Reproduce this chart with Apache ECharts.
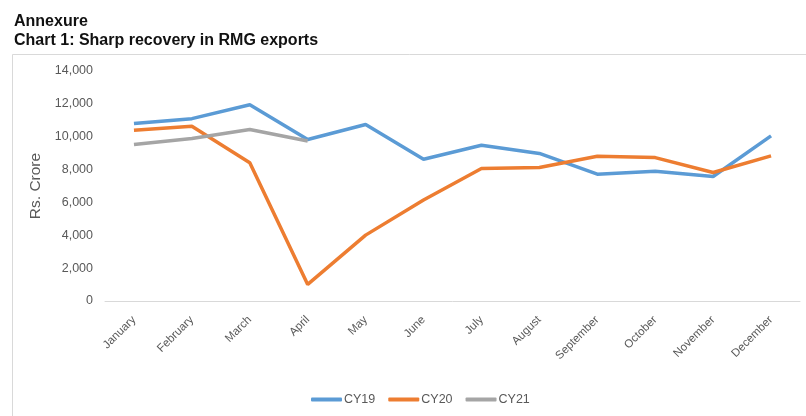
<!DOCTYPE html>
<html>
<head>
<meta charset="utf-8">
<script src="https://cdn.jsdelivr.net/npm/echarts@6/dist/echarts.min.js"></script>
<style>
  html, body { margin: 0; padding: 0; background: #fff; }
  #chart { width: 806px; height: 416px; }
</style>
</head>
<body>
<div id="chart"></div>
<script>
// Monthly RMG exports, Rs. crore
const months = ['January', 'February', 'March', 'April', 'May', 'June', 'July',
  'August', 'September', 'October', 'November', 'December'];
const cy19 = [10800, 11100, 11950, 9830, 10740, 8630, 9480, 8980, 7720, 7900, 7580, 10050];
const cy20 = [10400, 10640, 8410, 1010, 4010, 6150, 8070, 8130, 8810, 8730, 7820, 8830];
const cy21 = [9520, 9890, 10440, 9740];
const seriesNames = ['CY19', 'CY20', 'CY21'];
const seriesColors = ['#5B9BD5', '#ED7D31', '#A5A5A5'];

const chart = echarts.init(document.getElementById('chart'));
const mkLine = (name, data, color) => ({
  name, type: 'line', data, symbol: 'none',
  lineStyle: { width: 3.5, color }, itemStyle: { color },
  animation: false
});

chart.setOption({
  backgroundColor: '#fff',
  title: {
    text: 'Annexure\nChart 1: Sharp recovery in RMG exports',
    left: 9, top: 7,
    textStyle: { fontFamily: 'Liberation Sans', fontWeight: 'bold', fontSize: 16, lineHeight: 19, color: '#111' }
  },
  graphic: [{
    type: 'rect', left: 10, top: 52,
    shape: { x: 0, y: 0, width: 810, height: 380 },
    style: { fill: 'none', stroke: '#d9d9d9', lineWidth: 1 }
  }],
  grid: { left: 105, right: 6, top: 71, bottom: 115 },
  legend: {
    top: 388, left: 306,
    itemWidth: 31, itemHeight: 4, itemGap: 13,
    icon: 'roundRect',
    textStyle: { fontFamily: 'Liberation Sans', fontSize: 12.5, color: '#595959', padding: [0, 0, 0, -3] },
    data: seriesNames
  },
  xAxis: {
    type: 'category', data: months, boundaryGap: true,
    axisLine: { lineStyle: { color: '#d9d9d9' } },
    axisTick: { show: false },
    axisLabel: { rotate: 45, fontFamily: 'Liberation Sans', fontSize: 11.5, color: '#595959', margin: 17, interval: 0 }
  },
  yAxis: {
    type: 'value', min: 0, max: 14000, interval: 2000,
    name: 'Rs. Crore', nameLocation: 'middle', nameGap: 53, nameRotate: 90,
    nameTextStyle: { fontFamily: 'Liberation Sans', fontSize: 15.5, color: '#595959' },
    axisLine: { show: false }, axisTick: { show: false },
    splitLine: { show: false },
    axisLabel: {
      fontFamily: 'Liberation Sans', fontSize: 12.5, color: '#595959', margin: 12,
      formatter: v => v.toLocaleString('en-US')
    }
  },
  series: [
    mkLine(seriesNames[0], cy19, seriesColors[0]),
    mkLine(seriesNames[1], cy20, seriesColors[1]),
    mkLine(seriesNames[2], cy21, seriesColors[2])
  ]
});
</script>
</body>
</html>
